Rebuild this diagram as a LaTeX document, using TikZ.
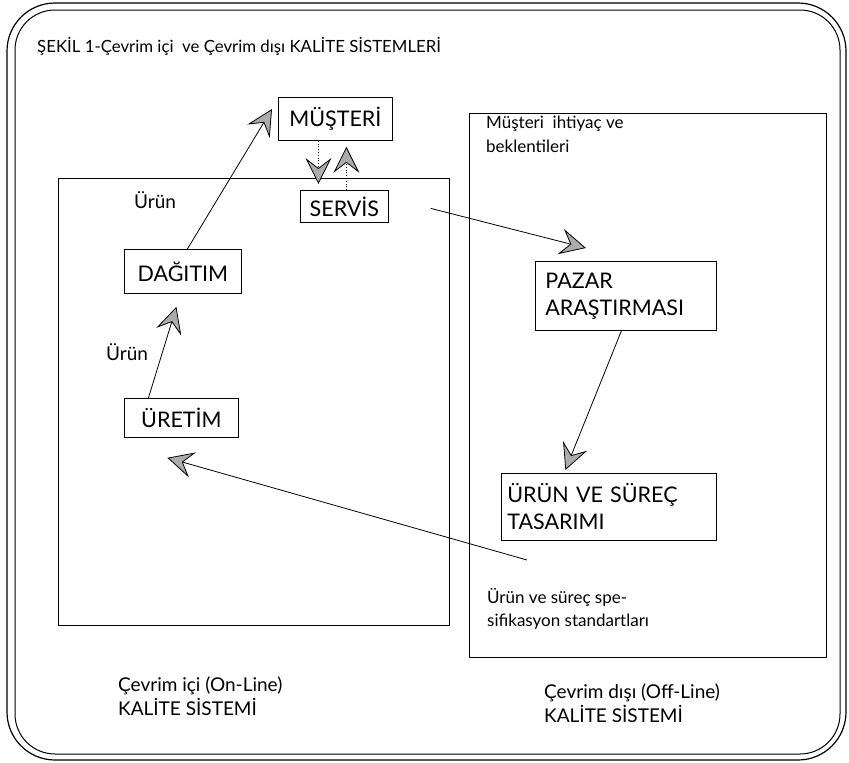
\documentclass[tikz,border=0pt]{standalone}
\usepackage{fontspec}
\setmainfont{Lato}
\usetikzlibrary{arrows.meta}
\tikzset{
  arr/.style={-{Stealth[length=26pt,width=26pt,inset=10pt,fill=gray!65]}, line width=0.8pt},
  darr/.style={arr, dotted},
  box/.style={draw, line width=0.8pt, inner sep=0pt, anchor=north west, font=\fontsize{21.5}{27}\selectfont},
  lbox/.style={box, align=left, text width=#1, inner xsep=10pt},
  lab/.style={inner sep=0pt, font=\fontsize{17}{23.5}\selectfont, align=left},
  biglab/.style={lab, font=\fontsize{19}{24}\selectfont},
}
\begin{document}
\begin{tikzpicture}[x=1pt,y=-1pt]
\useasboundingbox (0,0) rectangle (849,763);
% outer double frame
\draw[line width=1.2pt, rounded corners=48pt] (7,3) rectangle (846,760);
\draw[line width=1.0pt, rounded corners=40pt] (15,10) rectangle (840,754);
% title
\node[lab, anchor=west, font=\fontsize{16.8}{20}\selectfont] (title) at (37,46) {ŞEKİL 1-Çevrim içi\ \ ve Çevrim dışı KALİTE SİSTEMLERİ};
% system boxes
\draw[line width=0.9pt] (58,178) rectangle (449,625);
\draw[line width=0.9pt] (469,113) rectangle (826,657);
% nodes
\node[box, minimum width=114pt, minimum height=43pt] (mus) at (278,97) {MÜŞTERİ};
\node[box, minimum width=88pt, minimum height=32pt] (serv) at (300,190) {SERVİS};
\node[box, minimum width=117pt, minimum height=44pt] (dagi) at (124,249) {DAĞITIM};
\node[box, minimum width=114pt, minimum height=39pt] (uret) at (124,398) {ÜRETİM};
\node[lbox=161pt, minimum width=181pt, minimum height=69pt] (paz) at (535,261) {PAZAR\\ARAŞTIRMASI};
\node[lbox=203pt, minimum width=215pt, minimum height=67pt, inner xsep=6pt] (urun) at (501,473) {ÜRÜN VE SÜREÇ\\TASARIMI};
% labels
\node[biglab, anchor=west] (u1) at (134,200) {Ürün};
\node[biglab, anchor=west] (u2) at (106,352) {Ürün};
\node[lab, anchor=north west] (need) at (486,116) {Müşteri\ \ ihtiyaç ve\\beklentileri};
\node[lab, anchor=north west] (std) at (487,588) {Ürün ve süreç spe-\\sifikasyon standartları};
\node[biglab, anchor=north west] (on) at (118,677) {Çevrim içi (On-Line)\\KALİTE SİSTEMİ};
\node[biglab, anchor=north west] (off) at (544,684) {Çevrim dışı (Off-Line)\\KALİTE SİSTEMİ};
% connectors
\draw[arr] ([xshift=-33pt]uret.north) -- ([xshift=-6.5pt,yshift=-13pt]dagi.south);
\draw[arr] ([xshift=4.5pt]dagi.north) -- ([xshift=-6pt,yshift=-12pt]mus.north west);
\draw[darr] ([xshift=-17pt]mus.south) -- ([xshift=-26pt,yshift=6pt]serv.north);
\draw[darr] ([xshift=2pt]serv.north) -- ([xshift=11pt,yshift=-6pt]mus.south);
\draw[arr] ([xshift=42pt,yshift=-2pt]serv.east) -- ([xshift=-40pt,yshift=13pt]paz.north);
\draw[arr] ([xshift=-4.5pt]paz.south) -- ([xshift=-43.5pt,yshift=3pt]urun.north);
\draw[arr] ([xshift=40pt,yshift=28pt]std.north west) -- ([xshift=-14pt,yshift=-20pt]uret.south);
\end{tikzpicture}
\end{document}
